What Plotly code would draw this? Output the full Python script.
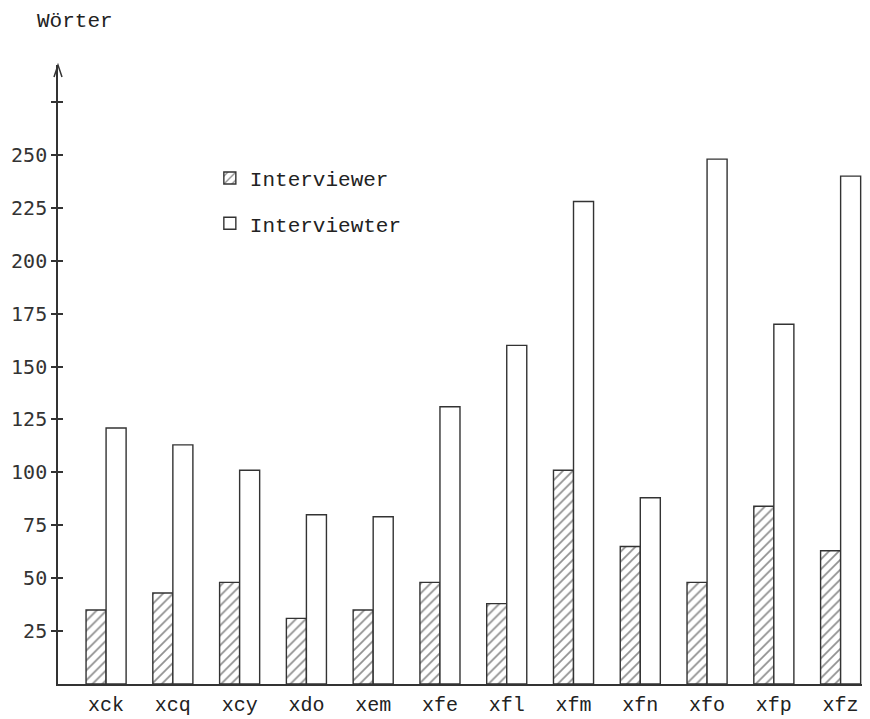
import plotly.graph_objects as go

categories = ["xck", "xcq", "xcy", "xdo", "xem", "xfe", "xfl", "xfm", "xfn", "xfo", "xfp", "xfz"]
interviewer = [35, 43, 48, 31, 35, 48, 38, 101, 65, 48, 84, 63]
interviewter = [121, 113, 101, 80, 79, 131, 160, 228, 88, 248, 170, 240]
tick_values = [25, 50, 75, 100, 125, 150, 175, 200, 225, 250, 275]
tick_labels = ["25", "50", "75", "100", "125", "150", "175", "200", "225", "250", ""]

INK = "#333333"
LINE = "#333333"
MONO = "Liberation Mono"
SANSMONO = "DejaVu Sans Mono"

fig = go.Figure()
fig.add_trace(go.Bar(
    x=categories, y=interviewer, name="Interviewer", legendgroup="a",
    marker=dict(color="white", line=dict(color=LINE, width=1.4),
                pattern=dict(shape="/", fgcolor="#222222", bgcolor="white", size=7, solidity=0.25)),
))
fig.add_trace(go.Bar(
    x=categories, y=interviewter, name="Interviewter", legendgroup="b",
    marker=dict(color="white", line=dict(color=LINE, width=1.4)),
))
# invisible helper so the mirrored tick axis is drawn
fig.add_trace(go.Scatter(x=[], y=[], yaxis="y2", showlegend=False, hoverinfo="skip"))

yr = [0, 292.5]
fig.update_layout(
    width=862, height=711,
    margin=dict(l=50, r=0, t=57, b=35),
    paper_bgcolor="white", plot_bgcolor="white",
    barmode="group", bargap=0.4, bargroupgap=0.0,
    font=dict(family=MONO, size=21, color=INK),
    xaxis=dict(range=[-0.72, 11.44], showline=True, linecolor=LINE, linewidth=1.6,
               ticks="outside", ticklen=1, tickcolor="rgba(0,0,0,0)",
               showgrid=False, zeroline=False, automargin=False,
               tickfont=dict(family=MONO, size=20, color="#222222")),
    yaxis=dict(range=yr, showline=True, linecolor=LINE, linewidth=1.6,
               showgrid=False, zeroline=False, automargin=False,
               tickmode="array", tickvals=tick_values, ticktext=tick_labels,
               ticks="outside", ticklen=5, tickwidth=1.5, tickcolor=LINE,
               tickfont=dict(family=SANSMONO, size=20, color=INK)),
    yaxis2=dict(range=yr, overlaying="y", side="left", showline=False,
                showgrid=False, zeroline=False, showticklabels=False, automargin=False,
                tickmode="array", tickvals=tick_values,
                ticks="inside", ticklen=5, tickwidth=1.5, tickcolor=LINE),
    legend=dict(x=0.187, y=0.85, xanchor="left", yanchor="top",
                traceorder="grouped", tracegroupgap=15,
                bgcolor="rgba(0,0,0,0)", font=dict(family=MONO, size=21, color="#222222")),
    showlegend=True,
    annotations=[dict(text="Wörter", xref="paper", yref="paper", x=-0.028, y=1.071,
                      xanchor="left", yanchor="middle", showarrow=False,
                      font=dict(family=MONO, size=21, color="#222222"))],
    shapes=[dict(type="path", xref="paper", yref="paper", xsizemode="pixel", ysizemode="pixel",
                 xanchor=0, yanchor=1, path="M-4,-12 L0,0 L4,-12",
                 line=dict(color=LINE, width=1.5))],
)

fig.write_html("out.html")
